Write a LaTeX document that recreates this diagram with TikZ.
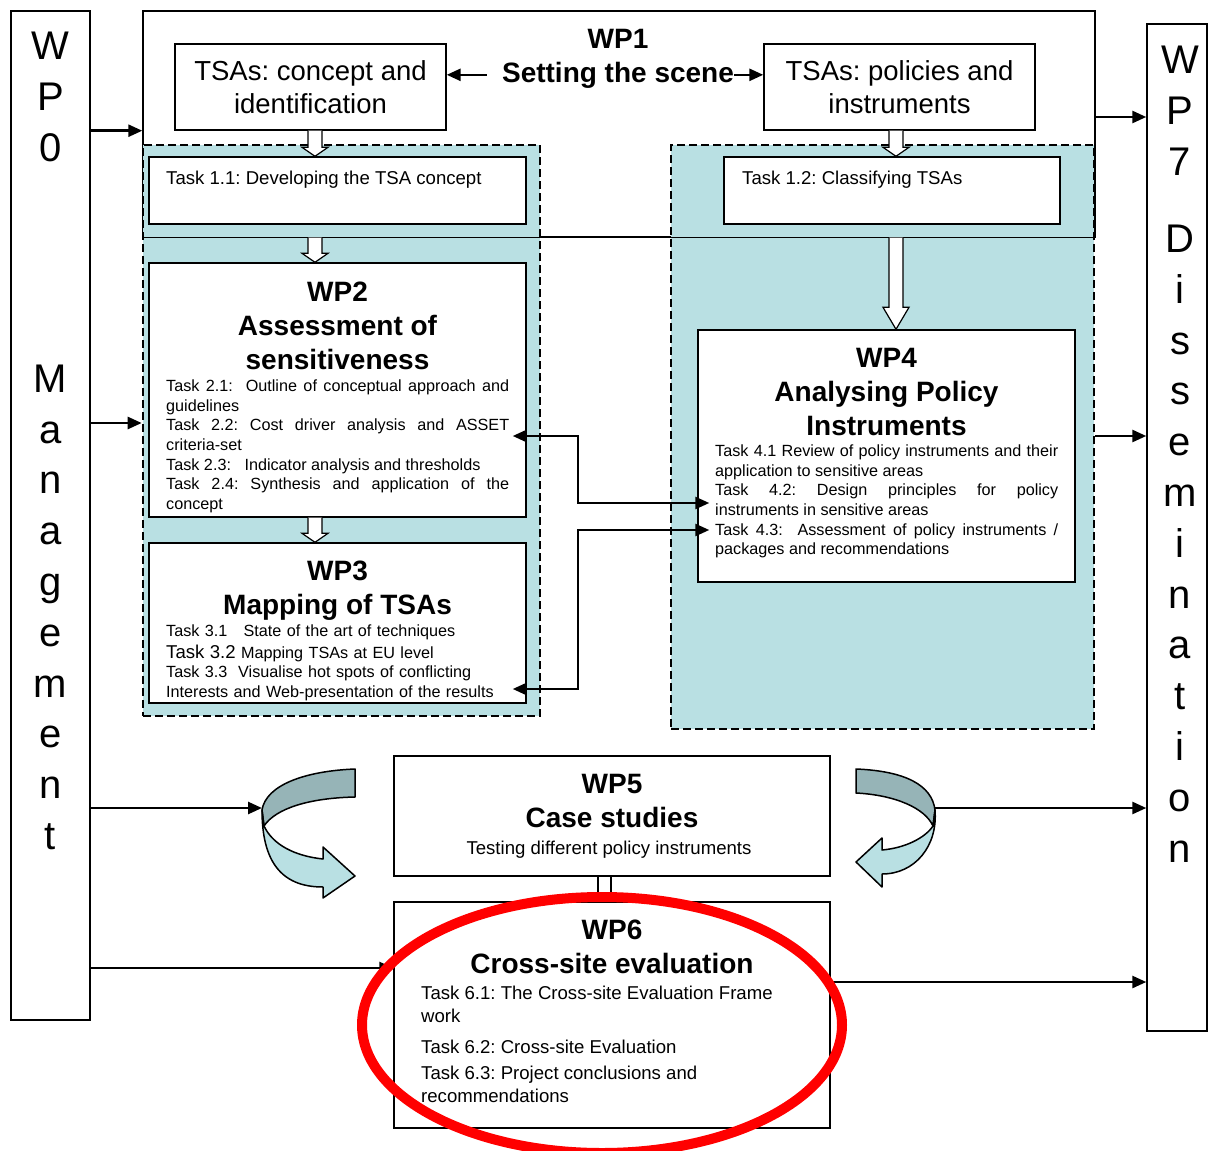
\documentclass[tikz,border=0pt]{standalone}
\usepackage{fontspec}
\setmainfont{Liberation Sans}
\frenchspacing
\usetikzlibrary{arrows.meta,positioning,calc}
\definecolor{ZoneBlue}{RGB}{185,224,227}
\definecolor{RibbonDark}{RGB}{150,180,183}

% hollow block arrow between two stacked boxes
\newcommand{\hollowdown}[4]{%
  \draw[hollow] ($(#1.south -| #3)+(-7,0)$) -- ($(#2.north -| #3)+(-7,-#4)$)
    -- ($(#2.north -| #3)+(-13,-#4)$) -- (#2.north -| #3)
    -- ($(#2.north -| #3)+(13,-#4)$) -- ($(#2.north -| #3)+(7,-#4)$)
    -- ($(#1.south -| #3)+(7,0)$);}

\begin{document}
\begin{tikzpicture}[x=1pt, y=-1pt,
  wpbox/.style={draw, line width=1.4pt, fill=white, inner sep=0pt},
  zone/.style={draw, fill=ZoneBlue, line width=2.6pt, dash pattern=on 8pt off 4pt, inner sep=0pt},
  bigtext/.style={font=\fontsize{27.5}{33}\selectfont, align=center},
  wptitle/.style={font=\fontsize{28}{34}\selectfont\bfseries, align=center, inner sep=0pt, anchor=base},
  tasks/.style={font=\fontsize{16.2}{19.7}\selectfont, text width=343pt, align=justify, inner sep=0pt, anchor=north west},
  tasklarge/.style={font=\fontsize{18.6}{23}\selectfont, inner sep=0pt},
  letters/.style={font=\fontsize{40}{50.8}\selectfont, align=center, inner sep=0pt, anchor=base},
  arr/.style={-{Triangle[length=14pt,width=12pt]}, line width=2.6pt},
  arrs/.style={{Triangle[length=14pt,width=12pt]}-{Triangle[length=14pt,width=12pt]}, line width=2.6pt},
  hollow/.style={draw, fill=white, line width=1.2pt},
  ribbon/.style={draw, line width=1.5pt, line join=round}
]
\useasboundingbox (0,0) rectangle (1208,1151);

% --- side columns (base anchor = last line)
\node[wpbox, minimum width=79pt, minimum height=1009pt] (wp0) at (50.5,515.5) {};
\node[wpbox, minimum width=60pt, minimum height=1007pt] (wp7) at (1177,527.5) {};
\node[letters] (wp0top) at (50.5,161) {W\\P\\0};
\node[letters] (wp0bot) at (50.5,849.5) {M\\a\\n\\a\\g\\e\\m\\e\\n\\t};
\node[letters] (wp7top) at (1180,175) {W\\P\\7};
\node[letters] (wp7bot) at (1180,862) {D\\i\\s\\s\\e\\m\\i\\n\\a\\t\\i\\o\\n};

% --- WP1 frame and dashed zones
\node[wpbox, minimum width=952pt, minimum height=226pt] (wp1) at (619,124) {};
\node[zone, minimum width=397pt, minimum height=571pt] (zoneL) at (341.5,430.5) {};
\node[zone, minimum width=423pt, minimum height=584pt] (zoneR) at (882.5,437) {};
\draw[line width=1.4pt] (wp1.south west) -- (wp1.south east);

% --- WP1 contents
\node[wpbox, minimum width=271pt, minimum height=86pt, bigtext] (tsac) at (310.5,87) {TSAs: concept and\\identification};
\node[wpbox, minimum width=271pt, minimum height=86pt, bigtext] (tsap) at (899.5,87) {TSAs: policies and\\instruments};
\node[wptitle] (wp1lbl) at (618,48) {WP1};
\node[wptitle] (scene) at (618,82) {Setting the scene};
\draw[arr] ($(scene.west)+(-15,0)$) -- (scene.west -| tsac.east);
\draw[arr] (scene.east) -- (scene.east -| tsap.west);

% --- tasks 1.1 / 1.2
\node[wpbox, minimum width=377pt, minimum height=67pt] (task11) at (337.5,190.5) {};
\node[wpbox, minimum width=336pt, minimum height=67pt] (task12) at (892,190.5) {};
\node[tasklarge, anchor=base west] (t11) at (166,184.5) {Task 1.1: Developing the TSA concept};
\node[tasklarge, anchor=base west] (t12) at (742,184.5) {Task 1.2: Classifying TSAs};

% --- WP2
\node[wpbox, minimum width=377pt, minimum height=254pt] (wp2) at (337.5,390) {};
\node[wptitle] (wp2title) at (337.5,369) {WP2\\Assessment of\\sensitiveness};
\node[tasks] (wp2tasks) at (166,379.5) {Task 2.1:~ Outline of conceptual approach and\linebreak guidelines\par
  Task 2.2: Cost driver analysis and ASSET\linebreak criteria-set\par
  Task 2.3:~~ Indicator analysis and thresholds\par
  Task 2.4: Synthesis and application of the\linebreak concept};

% --- WP3
\node[wpbox, minimum width=377pt, minimum height=160pt] (wp3) at (337.5,623) {};
\node[wptitle] (wp3title) at (337.5,614) {WP3\\Mapping of TSAs};
\node[tasks, align=left] (wp3tasks) at (166,624.5) {Task 3.1~~~State of the art of techniques\\[2pt]
  {\fontsize{18.6}{20}\selectfont Task 3.2} Mapping TSAs at EU level\\
  Task 3.3~ Visualise hot spots of conflicting\\
  Interests and Web-presentation of the results};

% --- WP4
\node[wpbox, minimum width=377pt, minimum height=252pt] (wp4) at (886.5,456) {};
\node[wptitle] (wp4title) at (886.5,435) {WP4\\Analysing Policy\\Instruments};
\node[tasks] (wp4tasks) at (715,444.5) {Task 4.1 Review of policy instruments and their\linebreak application to sensitive areas\par
  Task 4.2: Design principles for policy\linebreak instruments in sensitive areas\par
  Task 4.3:~ Assessment of policy instruments /\linebreak packages and recommendations};

% --- WP5 and WP6
\node[wpbox, minimum width=436pt, minimum height=120pt] (wp5) at (612,816) {};
\node[wptitle] (wp5title) at (612,827) {WP5\\Case studies};
\node[tasklarge, anchor=base] (wp5sub) at (609,854.5) {Testing different policy instruments};
\node[wpbox, minimum width=436pt, minimum height=226pt] (wp6) at (612,1015) {};
\node[wptitle] (wp6title) at (612,973) {WP6\\Cross-site evaluation};
\node[tasklarge, align=left, anchor=base west] (wp6tasks) at (421,1102.6) {Task 6.1: The Cross-site Evaluation Frame\\work\\[8pt]
  Task 6.2: Cross-site Evaluation\\[3pt]
  Task 6.3: Project conclusions and\\recommendations};

% --- hollow arrows
\coordinate (colL) at (315,0);
\coordinate (colR) at (896,0);
\hollowdown{tsac}{task11}{colL}{9}
\hollowdown{tsap}{task12}{colR}{9}
\hollowdown{wp1}{wp2}{colL}{9}
\hollowdown{wp1}{wp4}{colR}{22}
\hollowdown{wp2}{wp3}{colL}{9}
\draw[hollow] ($(wp5.south)+(-14,0)$) rectangle ($(wp6.north)+(-1,0)$);

% --- management / dissemination arrows
\coordinate (lvlA) at (0,423);
\coordinate (lvlB) at (0,808);
\coordinate (lvlC) at (0,968);
\coordinate (lvlD) at (0,117);
\coordinate (lvlE) at (0,436);
\coordinate (lvlF) at (0,982);
\coordinate (curveL) at (262,808);
\coordinate (curveR) at (935,808);
\draw[arr] (wp0.east |- tsac.south) -- (wp1.west |- tsac.south);
\draw[arr] (wp0.east |- lvlA) -- (zoneL.west |- lvlA);
\draw[arr] (wp0.east |- lvlB) -- (curveL);
\draw[arr] (wp0.east |- lvlC) -- (wp6.west |- lvlC);
\draw[arr] (wp1.east |- lvlD) -- (wp7.west |- lvlD);
\draw[arr] (zoneR.east |- lvlE) -- (wp7.west |- lvlE);
\draw[arr] (curveR) -- (wp7.west |- lvlB);
\draw[arr] (wp6.east |- lvlF) -- (wp7.west |- lvlF);

% --- links WP2/WP3 <-> WP4
\coordinate (jA) at (578,436);
\coordinate (jB) at (578,503);
\coordinate (jC) at (578,530);
\coordinate (jD) at (578,689);
\draw[arrs] ($(wp2.east |- jA)+(-14,0)$) -- (jA) -- (jB) -- ($(wp4.west |- jB)+(12,0)$);
\draw[arrs] ($(wp4.west |- jC)+(12,0)$) -- (jC) -- (jD) -- ($(wp3.east |- jD)+(-14,0)$);

% --- curved arrows beside WP5
\filldraw[ribbon, fill=RibbonDark] (355,769) .. controls (305,771) and (266,785) .. (262,810)
  -- (264,826) .. controls (276,808) and (310,798) .. (355,797) -- cycle;
\filldraw[ribbon, fill=ZoneBlue] (262,810) .. controls (262,860) and (280,887) .. (323,887)
  -- (323,898) -- (355,876) -- (323,847) -- (323,859)
  .. controls (295,856) and (273,845) .. (264,826) -- cycle;
\filldraw[ribbon, fill=RibbonDark] (856,769) .. controls (905,771) and (932,785) .. (935,810)
  -- (933,826) .. controls (925,808) and (895,795) .. (856,793) -- cycle;
\filldraw[ribbon, fill=ZoneBlue] (935,810) .. controls (938,846) and (915,874) .. (882,874)
  -- (882,887) -- (856,862) -- (882,838) -- (882,850)
  .. controls (905,848) and (925,838) .. (933,826) -- cycle;

% --- highlight
\draw[red, line width=10pt] (602,1025) ellipse [x radius=240, y radius=128];

\end{tikzpicture}
\end{document}
